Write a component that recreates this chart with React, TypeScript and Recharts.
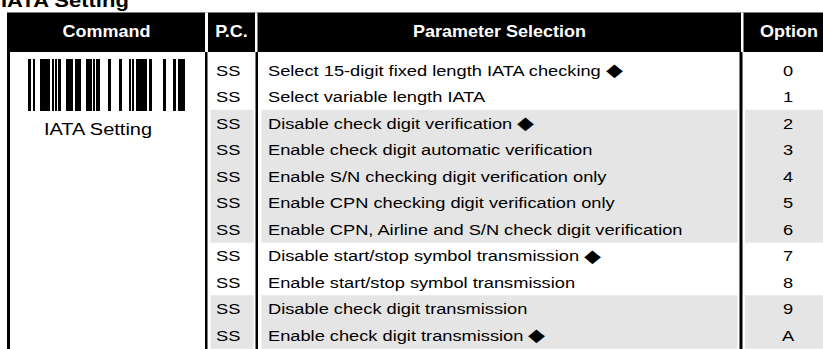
import React from 'react'
import { BarChart, Bar, XAxis, YAxis, Customized } from 'recharts'

const pcCodes = ['SS', 'SS', 'SS', 'SS', 'SS', 'SS', 'SS', 'SS', 'SS', 'SS', 'SS']
const paramLabels = [
  'Select 15-digit fixed length IATA checking ◆',
  'Select variable length IATA',
  'Disable check digit verification ◆',
  'Enable check digit automatic verification',
  'Enable S/N checking digit verification only',
  'Enable CPN checking digit verification only',
  'Enable CPN, Airline and S/N check digit verification',
  'Disable start/stop symbol transmission ◆',
  'Enable start/stop symbol transmission',
  'Disable check digit transmission',
  'Enable check digit transmission ◆',
]
const optionCodes = ['0', '1', '2', '3', '4', '5', '6', '7', '8', '9', 'A']
const shadedRows = [false, false, true, true, true, true, true, false, false, true, true]
const headers = ['Command', 'P.C.', 'Parameter Selection', 'Option']
const commandLabel = 'IATA Setting'
const sectionTitle = 'IATA Setting'

const rows = paramLabels.map((param, i) => ({
  param,
  pc: pcCodes[i],
  option: optionCodes[i],
  shaded: shadedRows[i],
  span: 1,
}))

const FONT = '"Liberation Sans", Arial, Helvetica, sans-serif'
const SHADE = '#e5e5e5'
const DIAMOND = '◆'

// barcode bars as [left, width] in px
const BARCODE: [number, number][] = [
  [28, 3], [33, 2], [40, 10], [52, 2], [55, 2], [58, 3], [66, 7], [75, 6],
  [86, 6], [93, 2], [96, 4], [108, 3], [119, 3], [129, 2], [132, 2], [136, 11],
  [149, 3], [163, 3], [173, 3], [178, 7],
]

function T({ x, y, children, size = 18.25, bold = false, anchor = 'start', fill = '#000', sy = 0.82 }: any) {
  return (
    <text
      transform={`translate(${x} ${y}) scale(1 ${sy})`}
      fontFamily={FONT}
      fontSize={size}
      fontWeight={bold ? 700 : 400}
      textAnchor={anchor}
      fill={fill}
    >
      {children}
    </text>
  )
}

// the default-setting marker is drawn a little larger than the text
function ParamText({ label }: { label: string }) {
  if (!label.endsWith(DIAMOND)) return <>{label}</>
  return (
    <>
      {label.slice(0, -1)}
      <tspan fontSize="1.2em" dy={1}>{DIAMOND}</tspan>
    </>
  )
}

function RowShape(props: any) {
  const { y, height, payload } = props
  const base = y + height / 2 + 5.3
  return (
    <g>
      {payload.shaded && (
        <g fill={SHADE}>
          <rect x={210.5} y={y} width={43} height={height} />
          <rect x={261.5} y={y} width={476} height={height} />
          <rect x={745} y={y} width={95} height={height} />
        </g>
      )}
      <T x={216} y={base}>{payload.pc}</T>
      <T x={268} y={base}><ParamText label={payload.param} /></T>
      <T x={788} y={base} anchor="middle">{payload.option}</T>
    </g>
  )
}

function TableFrame() {
  return (
    <g>
      <T x={1} y={6.5} size={22} bold sy={0.85}>{sectionTitle}</T>
      <rect x={7} y={12.5} width={833} height={39.5} fill="#000" />
      <g fill="#fff">
        <rect x={205} y={12.5} width={3} height={39.5} />
        <rect x={255} y={12.5} width={2.5} height={39.5} />
        <rect x={741} y={12.5} width={2.5} height={39.5} />
      </g>
      <T x={106.5} y={36.7} size={18} bold anchor="middle" fill="#fff" sy={0.9}>{headers[0]}</T>
      <T x={231.5} y={36.7} size={18} bold anchor="middle" fill="#fff" sy={0.9}>{headers[1]}</T>
      <T x={499.5} y={36.7} size={18} bold anchor="middle" fill="#fff" sy={0.9}>{headers[2]}</T>
      <T x={789} y={36.7} size={18} bold anchor="middle" fill="#fff" sy={0.9}>{headers[3]}</T>
      <g fill="#000">
        <rect x={7} y={52} width={3} height={297} />
        <rect x={205} y={52} width={2.5} height={297} />
        <rect x={255.5} y={52} width={2.5} height={297} />
        <rect x={739.5} y={52} width={3} height={297} />
      </g>
      <g fill="#000">
        {BARCODE.map(([bx, bw], i) => (
          <rect key={i} x={bx} y={59} width={bw} height={52} />
        ))}
      </g>
      <T x={98} y={135} size={20} anchor="middle">{commandLabel}</T>
    </g>
  )
}

export default function App() {
  return (
    <div
      style={{
        position: 'fixed', left: 0, top: 0, width: 823, height: 349,
        overflow: 'hidden', background: '#fff',
      }}
    >
      <BarChart
        width={840}
        height={349}
        data={rows}
        layout="vertical"
        barCategoryGap={0}
        barGap={0}
        margin={{ top: 56.75, right: 0, bottom: 0.75, left: 0 }}
      >
        <XAxis type="number" domain={[0, 1]} hide />
        <YAxis type="category" dataKey="param" hide />
        <Bar dataKey="span" shape={<RowShape />} isAnimationActive={false} />
        <Customized component={<TableFrame />} />
      </BarChart>
    </div>
  )
}
